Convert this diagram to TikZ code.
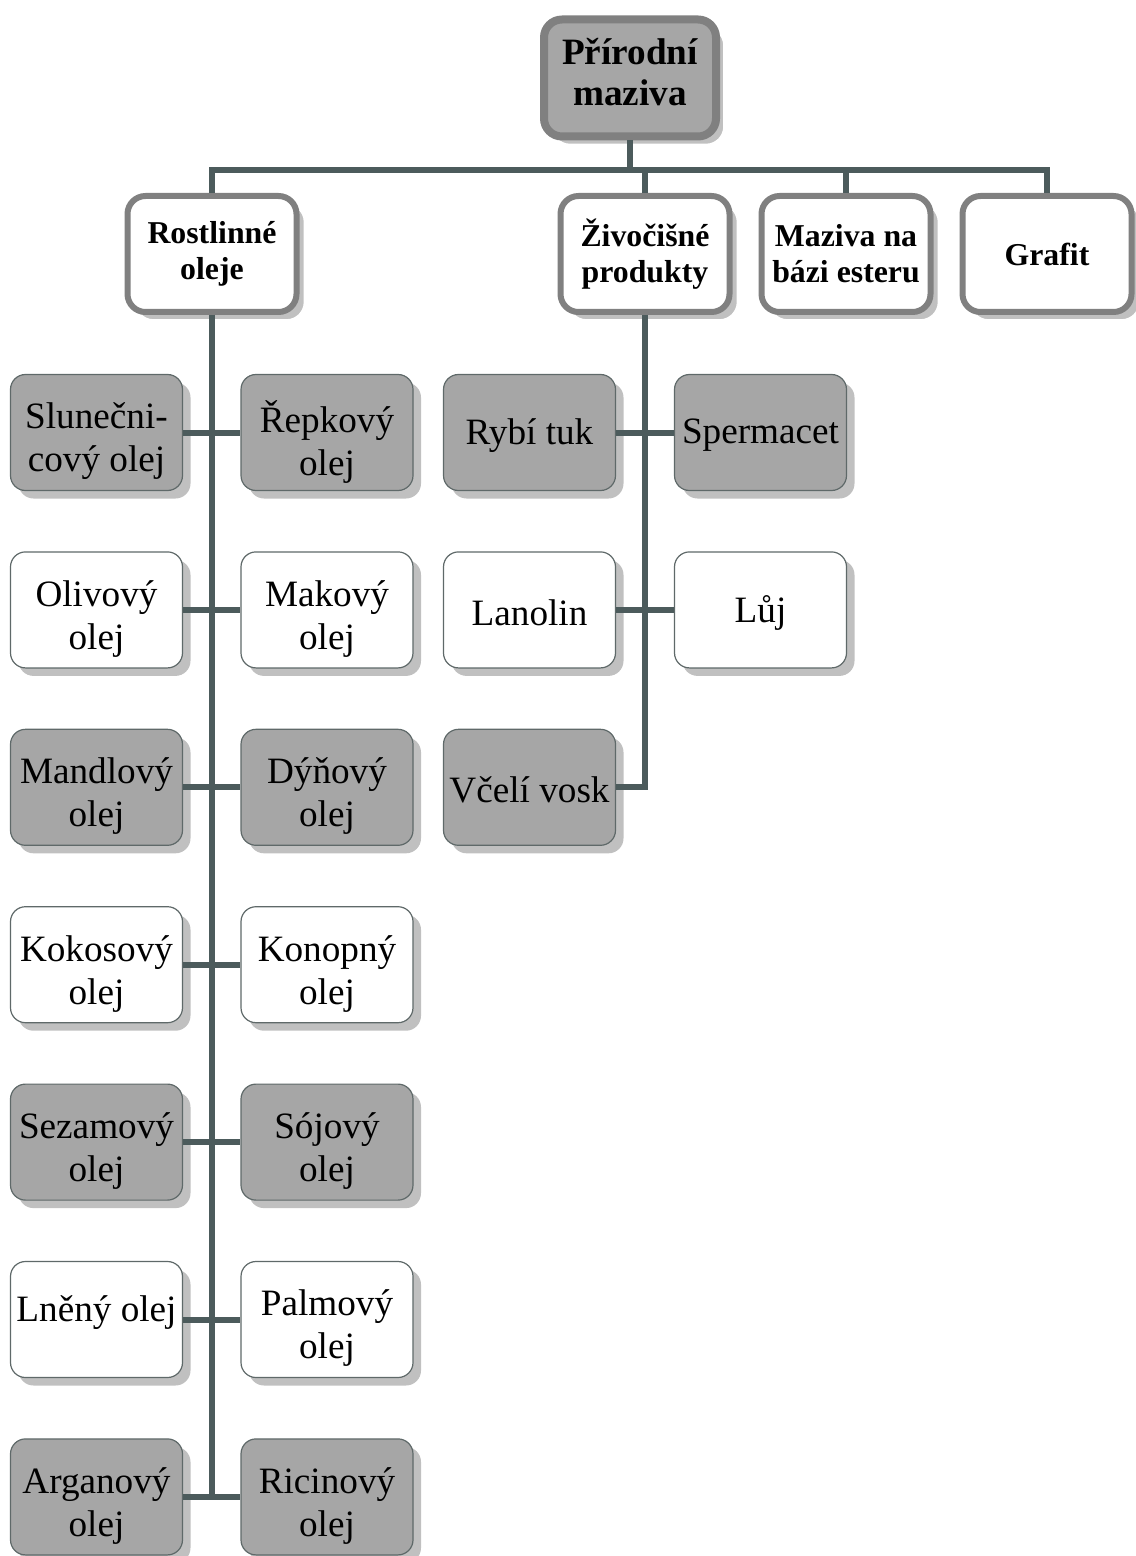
\documentclass[tikz,border=0pt]{standalone}
\usepackage{fontspec}
\setmainfont{Liberation Serif}
\usetikzlibrary{shadows}
\definecolor{conncol}{RGB}{76,91,92}
\definecolor{boxgray}{RGB}{166,166,166}
\definecolor{leafline}{RGB}{95,105,105}
\definecolor{headline}{RGB}{128,128,128}
\definecolor{shade}{RGB}{192,192,192}
% box node (name #2) at #3, with its text node (#2t) shifted by #4
\newcommand\leafbox[5]{%
  \node[#1] (#2) at (#3) {};
  \node[leaftext, yshift=#4] (#2t) at (#2.center) {#5};}
\begin{document}
\begin{tikzpicture}[x=0.5pt,y=-0.5pt,
  leaf/.style={rectangle, rounded corners=7.5pt, draw=leafline, line width=0.6pt,
    minimum width=86pt, minimum height=58pt, inner sep=0pt,
    drop shadow={shadow xshift=4pt, shadow yshift=-4pt, fill=shade, draw=none, opacity=1}},
  gleaf/.style={leaf, fill=boxgray},
  wleaf/.style={leaf, fill=white},
  leaftext/.style={align=center, inner sep=0pt, font=\fontsize{18.6}{21.5}\selectfont},
  head/.style={rectangle, rounded corners=9pt, draw=headline, line width=3pt, fill=white,
    minimum width=84.5pt, minimum height=58pt, align=center, inner sep=0pt,
    font=\fontsize{15.9}{18}\selectfont\bfseries,
    drop shadow={shadow xshift=4pt, shadow yshift=-4pt, fill=shade, draw=white, line width=0.8pt, opacity=1}},
  rootbox/.style={head, fill=boxgray, line width=4pt, minimum width=86pt, minimum height=58.5pt},
  roottext/.style={align=center, inner sep=0pt, font=\fontsize{18.6}{20.5}\selectfont\bfseries},
  conn/.style={draw=conncol, line width=3pt, line join=miter}
]
\useasboundingbox (0,0) rectangle (1135,1556);

% top levels
\node[rootbox] (root) at (630,78) {};
\node[roottext, yshift=3pt] (roott) at (root.center) {Přírodní\\maziva};
\node[head] (rost) at (212,254) {Rostlinné\\oleje};
\node[head] (ziv) at (645,254) {Živočišné\\produkty};
\node[head] (maz) at (846,254) {Maziva na\\bázi esteru};
\node[head] (graf) at (1047,254) {Grafit};

% Rostlinne oleje leaves
\leafbox{gleaf}{l1}{96.5,432.5}{-4.5pt}{Slunečni-\\cový olej}
\leafbox{gleaf}{r1}{327,432.5}{-4.5pt}{Řepkový\\olej}
\leafbox{wleaf}{l2}{96.5,609.9}{-4.5pt}{Olivový\\olej}
\leafbox{wleaf}{r2}{327,609.9}{-4.5pt}{Makový\\olej}
\leafbox{gleaf}{l3}{96.5,787.3}{-4.5pt}{Mandlový\\olej}
\leafbox{gleaf}{r3}{327,787.3}{-4.5pt}{Dýňový\\olej}
\leafbox{wleaf}{l4}{96.5,964.7}{-4.5pt}{Kokosový\\olej}
\leafbox{wleaf}{r4}{327,964.7}{-4.5pt}{Konopný\\olej}
\leafbox{gleaf}{l5}{96.5,1142.1}{-4.5pt}{Sezamový\\olej}
\leafbox{gleaf}{r5}{327,1142.1}{-4.5pt}{Sójový\\olej}
\leafbox{wleaf}{l6}{96.5,1319.5}{3.5pt}{Lněný olej}
\leafbox{wleaf}{r6}{327,1319.5}{-4.5pt}{Palmový\\olej}
\leafbox{gleaf}{l7}{96.5,1496.9}{-4.5pt}{Arganový\\olej}
\leafbox{gleaf}{r7}{327,1496.9}{-4.5pt}{Ricinový\\olej}

% Zivocisne produkty leaves
\leafbox{gleaf}{z1l}{529.5,432.5}{-1.5pt}{Rybí tuk}
\leafbox{gleaf}{z1r}{760.5,432.5}{-1.5pt}{Spermacet}
\leafbox{wleaf}{z2l}{529.5,609.9}{-1.5pt}{Lanolin}
\leafbox{wleaf}{z2r}{760.5,609.9}{-1.5pt}{Lůj}
\leafbox{gleaf}{z3l}{529.5,787.3}{-1.5pt}{Včelí vosk}

% connectors
\coordinate (bus) at (0,170);
\draw[conn] (rost.north) -- (rost.north |- bus) -- (graf.north |- bus) -- (graf.north);
\draw[conn] (root.south) -- (root.south |- bus);
\draw[conn] (ziv.north) -- (ziv.north |- bus);
\draw[conn] (maz.north) -- (maz.north |- bus);

\draw[conn] (rost.south) -- (rost.south |- l7.east);
\foreach \i in {1,...,7}{\draw[conn] (l\i.east) -- (r\i.west);}

\draw[conn] (ziv.south) -- (ziv.south |- z3l.east) -- (z3l.east);
\draw[conn] (z1l.east) -- (z1r.west);
\draw[conn] (z2l.east) -- (z2r.west);
\end{tikzpicture}
\end{document}
